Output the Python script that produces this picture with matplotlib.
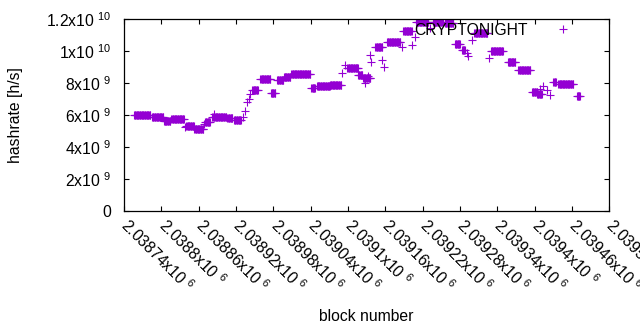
import numpy as np
import matplotlib
matplotlib.use("Agg")
import matplotlib.pyplot as plt
from matplotlib.ticker import FuncFormatter, MultipleLocator

# plateaus: first block, last block, hashrate (h/s)
seg_start = [2038756, 2038785, 2038804, 2038816, 2038840, 2038853, 2038870, 2038882,
             2038906, 2038917, 2038946, 2038959, 2038976, 2038986, 2038997, 2039009,
             2039041, 2039050, 2039071, 2039099, 2039116, 2039124, 2039144, 2039163,
             2039189, 2039210, 2039237, 2039256, 2039272, 2039283, 2039303, 2039330,
             2039357, 2039374, 2039396, 2039404, 2039430, 2039438, 2039468]
seg_end = [2038782, 2038803, 2038814, 2038836, 2038851, 2038867, 2038878, 2038904,
           2038914, 2038928, 2038955, 2038975, 2038983, 2038996, 2039007, 2039039,
           2039047, 2039071, 2039089, 2039116, 2039123, 2039136, 2039155, 2039184,
           2039202, 2039229, 2039253, 2039269, 2039280, 2039288, 2039324, 2039349,
           2039369, 2039393, 2039404, 2039412, 2039434, 2039462, 2039473]
seg_rate = [5.98e9, 5.86e9, 5.64e9, 5.75e9, 5.31e9, 5.14e9, 5.58e9, 5.89e9,
            5.81e9, 5.69e9, 7.56e9, 8.23e9, 7.36e9, 8.16e9, 8.36e9, 8.54e9,
            7.67e9, 7.81e9, 7.88e9, 8.96e9, 8.50e9, 8.29e9, 1.023e10, 1.054e10,
            1.127e10, 1.183e10, 1.183e10, 1.175e10, 1.042e10, 1.009e10, 1.111e10, 1.0e10,
            9.34e9, 8.81e9, 7.46e9, 7.34e9, 8.08e9, 7.94e9, 7.19e9]

# isolated blocks between plateaus
pt_block = [2038838, 2038852, 2038869, 2038884, 2038931, 2038934, 2038937, 2038941,
            2038943, 2039090, 2039095, 2039128, 2039132, 2039136, 2039137, 2039155,
            2039158, 2039187, 2039203, 2039208, 2039232, 2039291, 2039293, 2039299,
            2039326, 2039414, 2039425, 2039408, 2039420]
pt_rate = [5.25e9, 5.3e9, 5.45e9, 6.05e9, 5.85e9, 6.25e9, 6.8e9, 7.0e9,
           7.3e9, 8.6e9, 9.12e9, 8.0e9, 8.45e9, 9.75e9, 9.33e9, 9.44e9,
           9.02e9, 1.027e10, 1.0375e10, 1.089e10, 1.142e10, 9.86e9, 9.7e9, 1.069e10,
           9.54e9, 7.81e9, 7.25e9, 7.6e9, 7.55e9]

blocks = []
rates = []
for s, e, r in zip(seg_start, seg_end, seg_rate):
    b = np.arange(s, e + 1)
    blocks.extend(b)
    rates.extend([r] * len(b))
blocks.extend(pt_block)
rates.extend(pt_rate)

FS = 11.3
plt.rcParams.update({
    "font.family": ["Liberation Sans", "DejaVu Sans"],
    "font.size": FS,
    "mathtext.fontset": "custom",
    "mathtext.rm": "Liberation Sans",
    "mathtext.default": "regular",
})

fig = plt.figure(figsize=(6.4, 3.3), dpi=100)
ax = fig.add_axes([0.194, 0.3606, 0.758, 0.5818])

ax.plot(blocks, rates, linestyle="none", marker="+", markersize=5.2,
        markeredgewidth=0.8, color="#9400D3", label="CRYPTONIGHT")

ax.set_xlim(2038740, 2039520)
ax.set_ylim(0, 1.2e10)
ax.xaxis.set_major_locator(MultipleLocator(60))
ax.yaxis.set_major_locator(MultipleLocator(2e9))


def xfmt(v, pos):
    return f"{v / 1e6:g}x10 $^{{6}}$"


def yfmt(v, pos):
    if v <= 0:
        return "0"
    e = int(np.floor(np.log10(v) + 1e-9))
    return f"{v / 10 ** e:g}x10 $^{{{e}}}$"


ax.xaxis.set_major_formatter(FuncFormatter(xfmt))
ax.yaxis.set_major_formatter(FuncFormatter(yfmt))

ax.tick_params(direction="in", top=True, right=True, length=3.5, width=0.8)
ax.tick_params(axis="y", pad=9)
ax.tick_params(axis="x", pad=8)
for lab in ax.get_xticklabels():
    lab.set_rotation(-45)
    lab.set_ha("left")
    lab.set_va("center")
    lab.set_rotation_mode("anchor")
for sp in ax.spines.values():
    sp.set_linewidth(0.9)

ax.set_xlabel("block number")
ax.set_ylabel("hashrate [h/s]")
ax.xaxis.set_label_coords(0.5, -0.51)
ax.yaxis.set_label_coords(-0.208, 0.5)

ax.legend(loc="upper right", frameon=False, markerfirst=False, numpoints=1,
          handlelength=2.0, handletextpad=1.2, borderpad=0, borderaxespad=0,
          bbox_to_anchor=(0.936, 0.98), fontsize=FS)

fig.savefig("out.png", dpi=100)
